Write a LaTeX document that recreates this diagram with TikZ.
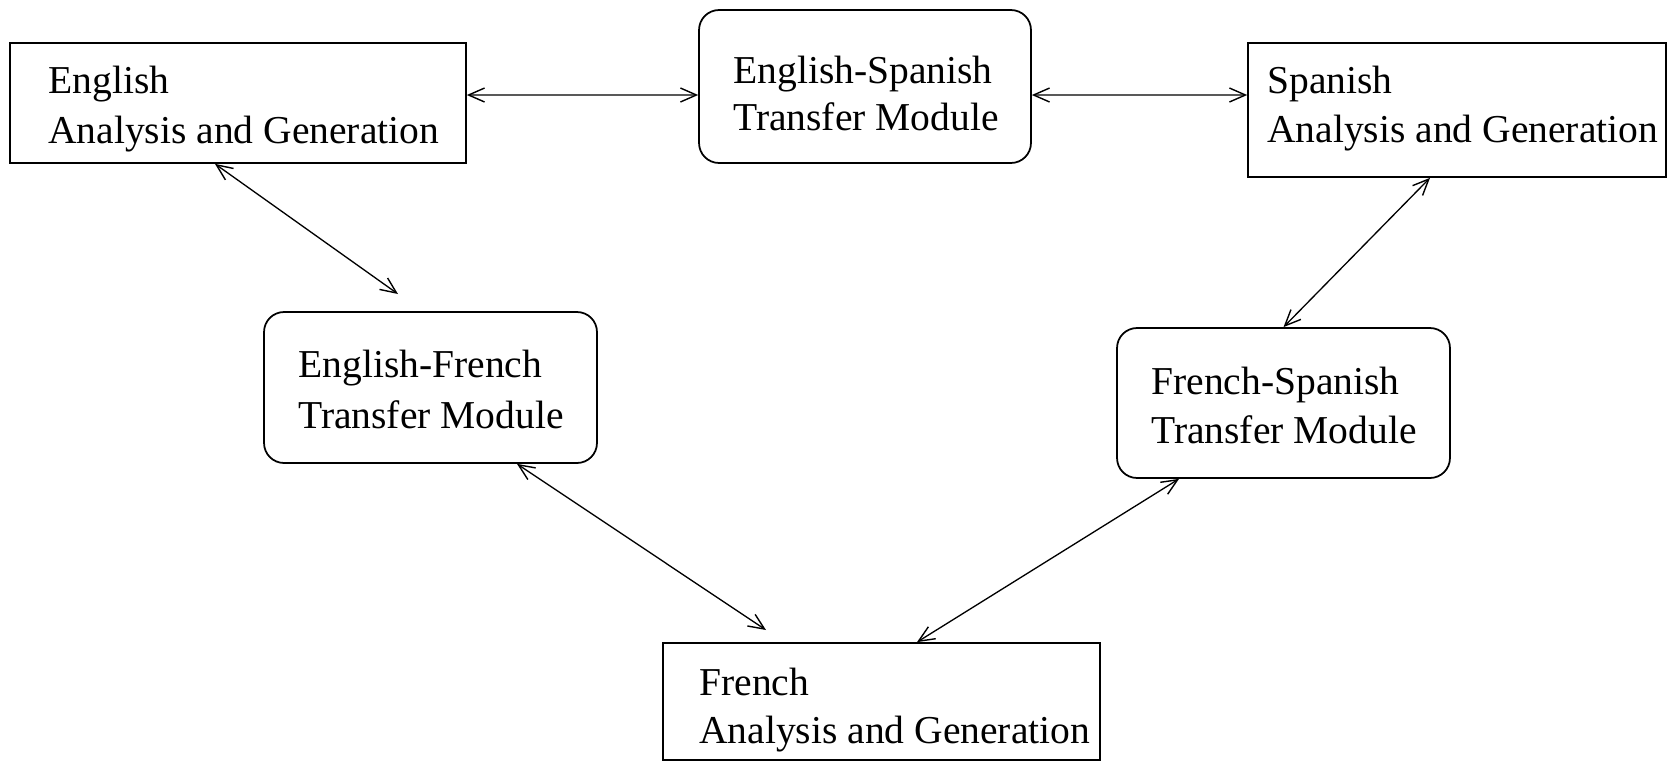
\documentclass[tikz,border=0pt]{standalone}
\usepackage{fontspec}
\setmainfont{Liberation Serif}
\usetikzlibrary{arrows.meta}
\begin{document}
\begin{tikzpicture}[x=0.02cm,y=-0.02cm,
  sq/.style={draw,line width=1pt,inner sep=0pt},
  rnd/.style={sq,rounded corners=0.4cm},
  lbl/.style={anchor=base west,inner sep=0pt,font=\fontsize{22.5}{27}\selectfont},
  tip/.tip={Straight Barb[length=0.32cm,width=0.28cm,line width=0.8pt]},
  link/.style={line width=0.75pt,tip-tip}]
\useasboundingbox (0,0) rectangle (1671,762);

% boxes
\node[sq,  minimum width=9.12cm, minimum height=2.40cm] (eng) at (238,103) {};
\node[rnd, minimum width=6.64cm, minimum height=3.06cm] (es)  at (865,86.5) {};
\node[sq,  minimum width=8.36cm, minimum height=2.68cm] (spa) at (1457,110) {};
\node[rnd, minimum width=6.66cm, minimum height=3.02cm] (ef)  at (430.5,387.5) {};
\node[rnd, minimum width=6.66cm, minimum height=3.00cm] (fs)  at (1283.5,403) {};
\node[sq,  minimum width=8.74cm, minimum height=2.34cm] (fr)  at (881.5,701.5) {};

% labels
\node[lbl] (engA) at (48,93)   {English};
\node[lbl] (engB) at (48,143)  {Analysis and Generation};
\node[lbl] (esA)  at (733,83)  {English-Spanish};
\node[lbl] (esB)  at (733,130) {Transfer Module};
\node[lbl] (spaA) at (1267,93) {Spanish};
\node[lbl] (spaB) at (1267,142){Analysis and Generation};
\node[lbl] (efA)  at (298,377) {English-French};
\node[lbl] (efB)  at (298,428) {Transfer Module};
\node[lbl] (fsA)  at (1151,394){French-Spanish};
\node[lbl] (fsB)  at (1151,443){Transfer Module};
\node[lbl] (frA)  at (699,695) {French};
\node[lbl] (frB)  at (699,743) {Analysis and Generation};

% free ends of the two links that stop short of their boxes
\coordinate (efIn) at (398,294);
\coordinate (frIn) at (766,630);

% links
\draw[link] ([yshift=0.16cm]eng.east) -- ([yshift=-0.17cm]es.west);
\draw[link] ([yshift=-0.17cm]es.east) -- ([yshift=0.30cm]spa.west);
\draw[link] ([xshift=-0.46cm]eng.south) -- (efIn);
\draw[link] ([xshift=1.73cm]ef.south) -- (frIn);
\draw[link] ([xshift=-0.54cm]spa.south) -- (fs.north);
\draw[link] ([xshift=-2.09cm]fs.south) -- ([xshift=0.71cm]fr.north);
\end{tikzpicture}
\end{document}
